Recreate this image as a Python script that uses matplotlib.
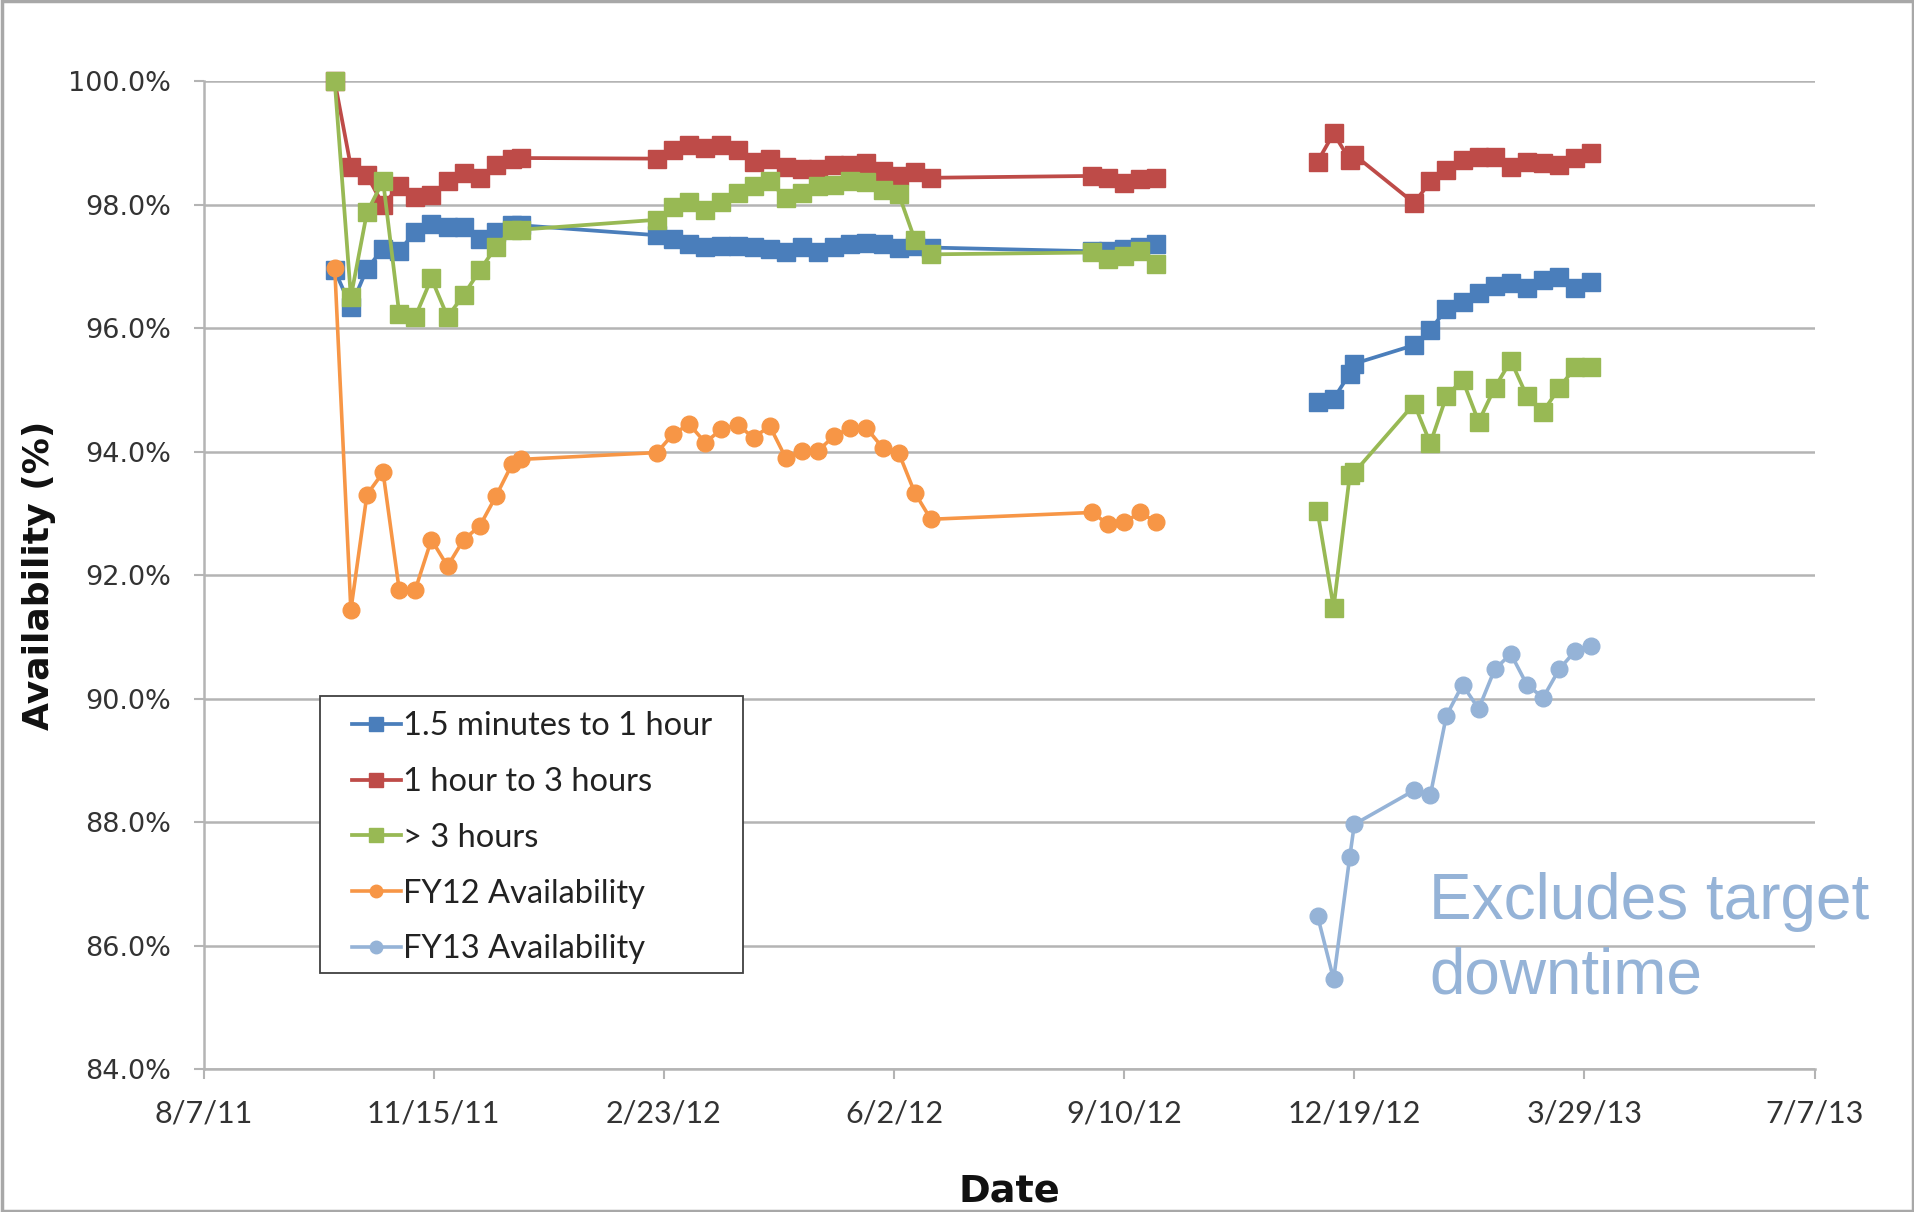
import matplotlib
matplotlib.use("Agg")
import matplotlib.pyplot as plt
from matplotlib.patches import Rectangle
from datetime import datetime

# weekly availability snapshots
fy12_dates = [
    "2011-10-03", "2011-10-10", "2011-10-17", "2011-10-24", "2011-10-31",
    "2011-11-07", "2011-11-14", "2011-11-21", "2011-11-28", "2011-12-05",
    "2011-12-12", "2011-12-19", "2011-12-23",
    "2012-02-20", "2012-02-27", "2012-03-05", "2012-03-12", "2012-03-19",
    "2012-03-26", "2012-04-02", "2012-04-09", "2012-04-16", "2012-04-23",
    "2012-04-30", "2012-05-07", "2012-05-14", "2012-05-21", "2012-05-28",
    "2012-06-04", "2012-06-11", "2012-06-18",
    "2012-08-27", "2012-09-03", "2012-09-10", "2012-09-17", "2012-09-24",
]
fy13_dates = [
    "2012-12-03", "2012-12-10", "2012-12-17", "2012-12-19", "2013-01-14",
    "2013-01-21", "2013-01-28", "2013-02-04", "2013-02-11", "2013-02-18",
    "2013-02-25", "2013-03-04", "2013-03-11", "2013-03-18", "2013-03-25",
    "2013-04-01",
]

short_fy12 = [96.94, 96.35, 96.97, 97.29, 97.26, 97.56, 97.69, 97.64, 97.64, 97.45, 97.56, 97.67, 97.67,
              97.51, 97.45, 97.37, 97.32, 97.34, 97.34, 97.32, 97.29, 97.24, 97.32, 97.24, 97.32,
              97.37, 97.38, 97.36, 97.31, 97.33, 97.31,
              97.25, 97.25, 97.28, 97.32, 97.36]
short_fy13 = [94.81, 94.86, 95.27, 95.43, 95.73, 95.97, 96.32, 96.43, 96.57, 96.68, 96.73, 96.65,
              96.78, 96.84, 96.65, 96.76]

mid_fy12 = [100.0, 98.62, 98.48, 98.00, 98.30, 98.13, 98.16, 98.38, 98.51, 98.43, 98.65, 98.74, 98.76,
            98.75, 98.89, 98.97, 98.92, 98.97, 98.89, 98.70, 98.75, 98.62, 98.59, 98.59, 98.65,
            98.65, 98.68, 98.55, 98.47, 98.53, 98.44,
            98.47, 98.44, 98.36, 98.42, 98.44]
mid_fy13 = [98.70, 99.16, 98.73, 98.81, 98.03, 98.38, 98.57, 98.73, 98.78, 98.78, 98.62, 98.70,
            98.68, 98.65, 98.76, 98.84]

long_fy12 = [100.0, 96.51, 97.88, 98.39, 96.24, 96.19, 96.81, 96.19, 96.54, 96.94, 97.32, 97.59, 97.60,
             97.76, 97.97, 98.05, 97.92, 98.05, 98.19, 98.30, 98.38, 98.11, 98.20, 98.30, 98.32,
             98.38, 98.37, 98.24, 98.18, 97.44, 97.20,
             97.23, 97.12, 97.17, 97.25, 97.04]
long_fy13 = [93.04, 91.48, 93.62, 93.67, 94.78, 94.14, 94.90, 95.17, 94.49, 95.04, 95.48, 94.90,
             94.65, 95.04, 95.37, 95.37]

avail_fy12 = [96.98, 91.44, 93.31, 93.67, 91.77, 91.77, 92.58, 92.15, 92.58, 92.80, 93.28, 93.80, 93.88,
              93.99, 94.29, 94.45, 94.15, 94.37, 94.44, 94.23, 94.42, 93.90, 94.02, 94.02, 94.26,
              94.39, 94.39, 94.07, 93.99, 93.34, 92.91,
              93.02, 92.83, 92.86, 93.02, 92.86]
avail_fy13 = [86.49, 85.46, 87.44, 87.97, 88.52, 88.44, 89.73, 90.23, 89.84, 90.48, 90.73, 90.23,
              90.02, 90.48, 90.78, 90.86]

x_ticks = ["8/7/11", "11/15/11", "2/23/12", "6/2/12", "9/10/12", "12/19/12", "3/29/13", "7/7/13"]
y_ticks = [84, 86, 88, 90, 92, 94, 96, 98, 100]


def to_dt(s):
    return datetime.strptime(s, "%Y-%m-%d")


d12 = [to_dt(s) for s in fy12_dates]
d13 = [to_dt(s) for s in fy13_dates]
tick_dates = [datetime.strptime(s, "%m/%d/%y") for s in x_ticks]

fig = plt.figure(figsize=(19.15, 12.12), dpi=100)
fig.patches.append(Rectangle((0.001, 0.001), 0.998, 0.998, transform=fig.transFigure,
                             fill=False, edgecolor="#a8a8a8", lw=2.5))
ax = fig.add_axes([0.1063, 0.1176, 0.8413, 0.8152])

grid_c = "#b4b4b4"
ax.set_ylim(84, 100)
ax.set_yticks(y_ticks)
ax.set_yticklabels(["%.1f%%" % v for v in y_ticks], family="DejaVu Sans", fontsize=19.5, color="#333333")
ax.set_xlim(tick_dates[0], tick_dates[-1])
ax.set_xticks(tick_dates)
ax.set_xticklabels(x_ticks, family="Lato", fontsize=22, color="#333333")
ax.yaxis.grid(True, color=grid_c, lw=1.8, zorder=0)
ax.set_axisbelow(True)
for side in ("top", "right"):
    ax.spines[side].set_visible(False)
for side in ("left", "bottom"):
    ax.spines[side].set_color(grid_c)
    ax.spines[side].set_linewidth(1.8)
ax.tick_params(axis="y", length=7.5, width=1.5, color=grid_c, pad=16)
ax.tick_params(axis="x", length=7.5, width=1.5, color=grid_c, pad=14)

series = [
    ("1.5 minutes to 1 hour", short_fy12, short_fy13, "#4a7ebb"),
    ("1 hour to 3 hours", mid_fy12, mid_fy13, "#be4b48"),
    ("> 3 hours", long_fy12, long_fy13, "#98b954"),
]
z = 3
for label, v12, v13, color in series:
    ax.plot(d12, v12, color=color, marker="s", ms=13.5, lw=2.7, label=label, zorder=z, clip_on=False)
    ax.plot(d13, v13, color=color, marker="s", ms=13.5, lw=2.7, zorder=z, clip_on=False)
    z += 1

ax.plot(d12, avail_fy12, color="#f79646", marker="o", ms=12, lw=2.6, label="FY12 Availability",
        zorder=z, clip_on=False)
ax.plot(d13, avail_fy13, color="#95b3d7", marker="o", ms=12, lw=2.6, label="FY13 Availability",
        zorder=z + 1, clip_on=False)

# legend box drawn separately so the inner padding can differ per side
ax.add_patch(Rectangle((0.0723, 0.0973), 0.2623, 0.2807, transform=ax.transAxes,
                       facecolor="white", edgecolor="#404040", lw=1.3, zorder=10))
leg = ax.legend(loc="center left", bbox_to_anchor=(0.092, 0.2344), borderaxespad=0, borderpad=0,
                prop={"family": "Lato", "size": 23.5}, frameon=False,
                handlelength=1.5, handletextpad=0.07, labelspacing=0.79, markerscale=0.75)
leg.set_zorder(11)
for t in leg.get_texts():
    t.set_color("#222222")

fig.text(39 / 1915, 1 - 575 / 1212, "Availability (%)", rotation=90, ha="center", va="center",
         family="DejaVu Sans", fontweight="bold", fontsize=26, color="#111111")
fig.text(1009 / 1915, 1 - 1191 / 1212, "Date", ha="center", va="center",
         family="DejaVu Sans", fontweight="bold", fontsize=27.5, color="#111111")
fig.text(1429 / 1915, 1 - 939 / 1212, "Excludes target\ndowntime", ha="left", va="center",
         family="Liberation Sans", fontsize=46, color="#95b3d7", linespacing=1.3)

fig.savefig("out.png", dpi=100)
